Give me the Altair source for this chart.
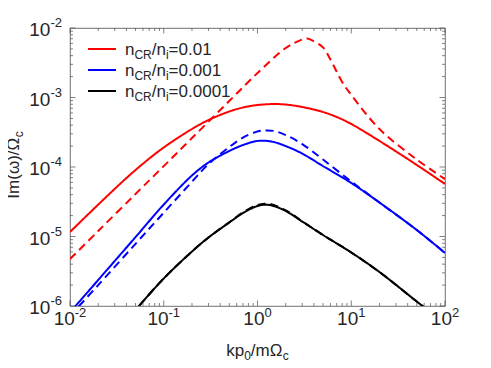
import altair as alt
import pandas as pd

# ---------------- data ----------------
k_red_solid = [0.01, 0.02, 0.05, 0.1, 0.2, 0.3, 0.5, 0.7, 1, 1.5, 2, 3, 5, 7, 10, 20, 50, 100]
red_solid = [1.16e-5, 2.88e-5, 9.06e-5, 1.91e-4, 3.52e-4, 4.74e-4, 6.29e-4, 7.18e-4, 7.8e-4,
             8.05e-4, 7.92e-4, 7.3e-4, 6.18e-4, 5.24e-4, 4.16e-4, 2.37e-4, 1.07e-4, 5.69e-5]
k_red_dashed = [0.01, 0.02, 0.05, 0.1, 0.2, 0.5, 1, 2, 3, 3.4, 4, 5, 6, 8, 10, 20, 50, 100]
red_dashed = [4.74e-6, 1.2e-5, 4.09e-5, 1.03e-4, 2.61e-4, 8.9e-4, 2.25e-3, 5.15e-3, 6.84e-3,
              7.07e-3, 6.4e-3, 5.27e-3, 3.52e-3, 1.67e-3, 1.09e-3, 3.52e-4, 1.28e-4, 6.7e-5]
k_blue_solid = [0.01, 0.02, 0.05, 0.1, 0.2, 0.3, 0.5, 0.7, 1, 1.4, 2, 3, 5, 10, 20, 50, 100]
blue_solid = [8.09e-7, 2.37e-6, 9.8e-6, 2.88e-5, 7.55e-5, 1.16e-4, 1.70e-4, 2.07e-4, 2.37e-4,
              2.33e-4, 2.0e-4, 1.56e-4, 1.03e-4, 5.89e-5, 3.08e-5, 1.24e-5, 5.8e-6]
k_blue_dashed = [0.01, 0.02, 0.05, 0.1, 0.2, 0.3, 0.5, 0.7, 1, 1.2, 1.5, 2, 3, 5, 10, 20, 50, 100]
blue_dashed = [7.2e-7, 2.0e-6, 7.85e-6, 2.2e-5, 6.14e-5, 1.10e-4, 1.94e-4, 2.65e-4, 3.24e-4,
               3.35e-4, 3.3e-4, 2.88e-4, 2.14e-4, 1.28e-4, 6.18e-5, 3.08e-5, 1.24e-5, 5.8e-6]
k_black = [0.01, 0.02, 0.05, 0.1, 0.2, 0.3, 0.5, 0.7, 1, 1.2, 1.4, 2, 3, 5, 10, 20, 50, 100]
black_solid = [7.9e-8, 2.2e-7, 8.8e-7, 2.49e-6, 6.08e-6, 9.68e-6, 1.59e-5, 2.18e-5, 2.75e-5,
               2.86e-5, 2.81e-5, 2.33e-5, 1.64e-5, 1.05e-5, 5.89e-6, 3.08e-6, 1.16e-6, 5.6e-7]
black_dashed = [7.9e-8, 2.2e-7, 8.8e-7, 2.49e-6, 6.08e-6, 9.68e-6, 1.6e-5, 2.22e-5, 2.84e-5,
                2.96e-5, 2.91e-5, 2.38e-5, 1.66e-5, 1.05e-5, 5.89e-6, 3.08e-6, 1.16e-6, 5.6e-7]

legend_ratios = ["0.01", "0.001", "0.0001"]
series_names = ["red", "blue", "black"]
series_colors = ["#ff0000", "#0000ff", "#000000"]

x_major = [0.01, 0.1, 1, 10, 100]
x_exp = ["-2", "-1", "0", "1", "2"]
y_major = [1e-6, 1e-5, 1e-4, 1e-3, 1e-2]
y_exp = ["-6", "-5", "-4", "-3", "-2"]

# ---------------- layout / style ----------------
W, H = 375, 278
PXD_X = W / 4.0
FONT = "Liberation Sans"
TC = "#262626"
FRAME = "#4d4d4d"
FS = 17      # main text size
FS_S = 12    # sub/superscript size
FT = 19      # tick label size
FT_S = 13    # tick exponent size

AW = {'0': .556, '1': .556, '2': .556, '3': .556, '4': .556, '5': .556, '6': .556,
      '-': .333, 'n': .556, 'C': .722, 'R': .722, '/': .278, 'i': .222, '=': .584,
      '.': .278, 'k': .5, 'p': .556, 'm': .833, 'Ω': .768, 'c': .5, 'I': .278,
      '(': .333, ')': .333, 'ω': .781}


def tw(s, size):
    return sum(AW.get(ch, .556) for ch in s) * size


xs = alt.Scale(type="log", domain=[0.01, 100], nice=False)
ys = alt.Scale(type="log", domain=[1e-6, 1e-2], nice=False)

# ---------------- curves ----------------
rows = []
for name, style, ks, vs in [
    ("red", "solid", k_red_solid, red_solid),
    ("red", "dashed", k_red_dashed, red_dashed),
    ("blue", "solid", k_blue_solid, blue_solid),
    ("blue", "dashed", k_blue_dashed, blue_dashed),
    ("black", "solid", k_black, black_solid),
    ("black", "dashed", k_black, black_dashed),
]:
    for k, v in zip(ks, vs):
        rows.append({"k": k, "g": v, "series": name, "style": style, "grp": name + style})
curves_df = pd.DataFrame(rows)

curves = alt.Chart(curves_df).mark_line(clip=True, strokeWidth=2, interpolate="catmull-rom",
                                        strokeCap="butt").encode(
    x=alt.X("k:Q", scale=xs, axis=None),
    y=alt.Y("g:Q", scale=ys, axis=None),
    color=alt.Color("series:N", scale=alt.Scale(domain=series_names, range=series_colors), legend=None),
    strokeDash=alt.StrokeDash("style:N", scale=alt.Scale(domain=["solid", "dashed"],
                                                          range=[[1, 0], [8, 5]]), legend=None),
    detail="grp:N",
)

# ---------------- ticks (inward, all four sides) ----------------
x_minor = [m * t for t in x_major[:-1] for m in range(2, 10)]
y_minor = [m * t for t in y_major[:-1] for m in range(2, 10)]
MAJ, MIN = 5.5, 3


def xticks(vals, ln):
    d = pd.DataFrame({"v": vals})
    b = alt.Chart(d).mark_rule(color=FRAME, strokeWidth=0.7).encode(
        x=alt.X("v:Q", scale=xs, axis=None), y=alt.value(H), y2=alt.value(H - ln))
    t = alt.Chart(d).mark_rule(color=FRAME, strokeWidth=0.7).encode(
        x=alt.X("v:Q", scale=xs, axis=None), y=alt.value(0), y2=alt.value(ln))
    return [b, t]


def yticks(vals, ln):
    d = pd.DataFrame({"v": vals})
    l = alt.Chart(d).mark_rule(color=FRAME, strokeWidth=0.7).encode(
        y=alt.Y("v:Q", scale=ys, axis=None), x=alt.value(0), x2=alt.value(ln))
    r = alt.Chart(d).mark_rule(color=FRAME, strokeWidth=0.7).encode(
        y=alt.Y("v:Q", scale=ys, axis=None), x=alt.value(W), x2=alt.value(W - ln))
    return [l, r]


tick_layers = xticks(x_major, MAJ) + xticks(x_minor, MIN) + yticks(y_major, MAJ) + yticks(y_minor, MIN)

# ---------------- tick labels ----------------
w10 = tw("10", FT)
xl = pd.DataFrame({"v": x_major, "exp": x_exp})
xl["tot"] = w10 + xl["exp"].map(lambda s: tw(s, FT_S))
xl["x10"] = xl["v"] * 10 ** ((-xl["tot"] / 2) / PXD_X)
xl["xe"] = xl["v"] * 10 ** ((-xl["tot"] / 2 + w10) / PXD_X)

xlab10 = alt.Chart(xl).mark_text(align="left", baseline="alphabetic", font=FONT, fontSize=FT,
                                 color=TC).encode(
    x=alt.X("x10:Q", scale=xs, axis=None), y=alt.value(H + 19), text=alt.value("10"))
xlabe = alt.Chart(xl).mark_text(align="left", baseline="alphabetic", font=FONT, fontSize=FT_S,
                                color=TC).encode(
    x=alt.X("xe:Q", scale=xs, axis=None), y=alt.value(H + 11), text="exp:N")

yl = pd.DataFrame({"v": y_major, "exp": y_exp})
we = tw("-2", FT_S)
ylab10 = alt.Chart(yl).mark_text(align="right", baseline="alphabetic", font=FONT, fontSize=FT,
                                 color=TC, dy=8).encode(
    y=alt.Y("v:Q", scale=ys, axis=None), x=alt.value(-8 - we), text=alt.value("10"))
ylabe = alt.Chart(yl).mark_text(align="right", baseline="alphabetic", font=FONT, fontSize=FT_S,
                                color=TC, dy=-1).encode(
    y=alt.Y("v:Q", scale=ys, axis=None), x=alt.value(-8), text="exp:N")

# ---------------- free text pieces (titles, legend) ----------------
ONE = pd.DataFrame({"o": [0]})


def txt(s, x, y, size, angle=0, color=TC):
    return alt.Chart(ONE).mark_text(align="left", baseline="alphabetic", font=FONT,
                                    fontSize=size, color=color, angle=angle).encode(
        x=alt.value(x), y=alt.value(y), text=alt.value(s))


def rich(pieces, x0, y0, angle=0):
    """pieces: list of (text, is_sub). Horizontal (angle 0) or upward (angle 270)."""
    out = []
    pos = 0.0
    for s, sub in pieces:
        size = FS_S if sub else FS
        shift = 4 if sub else 0
        if angle == 0:
            out.append(txt(s, x0 + pos, y0 + shift, size))
        else:
            out.append(txt(s, x0 + shift, y0 - pos, size, angle=270))
        pos += tw(s, size)
    return out


def rich_width(pieces):
    return sum(tw(s, FS_S if sub else FS) for s, sub in pieces)


xt_pieces = [("kp", False), ("0", True), ("/mΩ", False), ("c", True)]
xt = rich(xt_pieces, W / 2 - rich_width(xt_pieces) / 2, H + 50)

yt_pieces = [("Im(ω)/Ω", False), ("c", True)]
yt = rich(yt_pieces, -51, H / 2 + rich_width(yt_pieces) / 2 - 2, angle=270)

legend_layers = []
for i, (ratio, col) in enumerate(zip(legend_ratios, series_colors)):
    ly = 21 + 21 * i
    legend_layers.append(
        alt.Chart(ONE).mark_rule(color=col, strokeWidth=2).encode(
            x=alt.value(18), x2=alt.value(46), y=alt.value(ly)))
    legend_layers += rich([("n", False), ("CR", True), ("/n", False), ("i", True),
                           ("=" + ratio, False)], 55, ly + 6)

chart = alt.layer(
    *tick_layers, curves, xlab10, xlabe, ylab10, ylabe, *xt, *yt, *legend_layers
).properties(
    width=W, height=H,
    autosize=alt.AutoSizeParams(type="none"),
    padding={"left": 62, "top": 20, "right": 38, "bottom": 62},
).configure_view(stroke=FRAME, strokeWidth=0.8)

chart.save("out.html", embed_options={"renderer": "svg", "actions": False})
